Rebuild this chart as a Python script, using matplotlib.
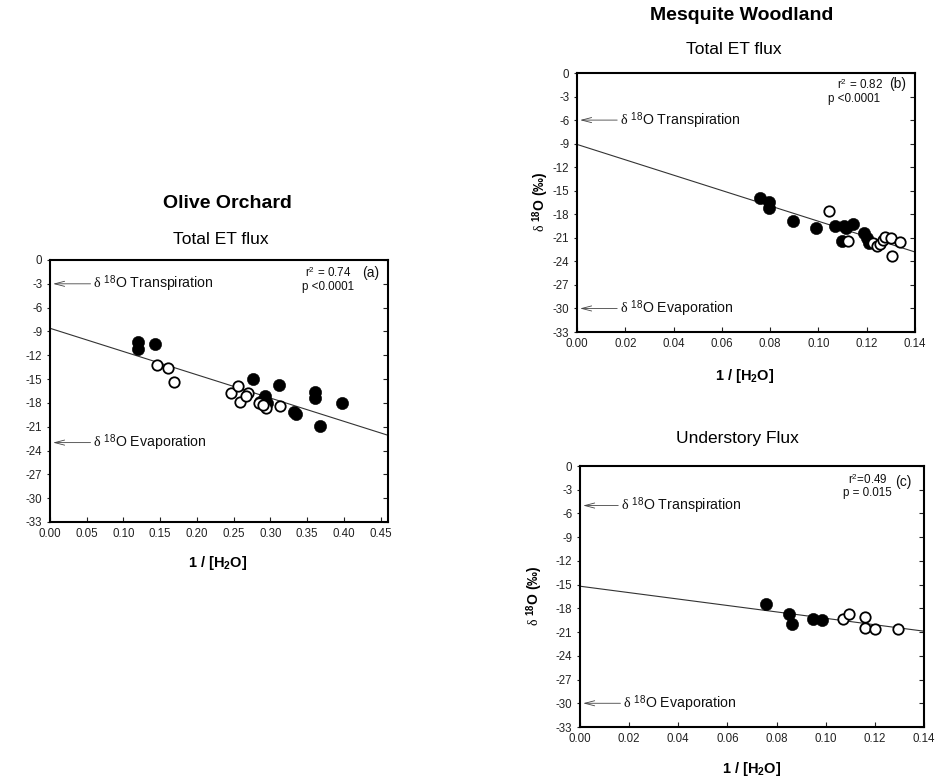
import numpy as np
import matplotlib
matplotlib.use("Agg")
import matplotlib.pyplot as plt
from matplotlib.ticker import FixedLocator, FixedFormatter

plt.rcParams['font.family'] = ['Liberation Sans', 'DejaVu Sans']
plt.rcParams['mathtext.fontset'] = 'custom'
plt.rcParams['mathtext.rm'] = 'Liberation Serif'
plt.rcParams['mathtext.sf'] = 'Liberation Sans'
plt.rcParams['mathtext.bf'] = 'Liberation Sans:bold'
plt.rcParams['mathtext.it'] = 'Liberation Sans:italic'
plt.rcParams['mathtext.default'] = 'rm'
plt.rcParams['axes.unicode_minus'] = False

# ---- Olive orchard, total ET flux (a) ----
olive_closed_x = [0.120, 0.120, 0.143, 0.276, 0.311, 0.292, 0.286, 0.295,
                  0.332, 0.335, 0.360, 0.360, 0.367, 0.398]
olive_closed_y = [-10.3, -11.2, -10.6, -15.0, -15.75, -17.15, -17.9, -18.05,
                  -19.15, -19.35, -16.6, -17.4, -20.9, -18.05]
olive_open_x = [0.146, 0.160, 0.169, 0.246, 0.2555, 0.258, 0.269, 0.267,
                0.284, 0.2945, 0.3136, 0.290]
olive_open_y = [-13.25, -13.55, -15.4, -16.8, -15.9, -17.85, -16.75, -17.1,
                -18.0, -18.7, -18.4, -18.3]
olive_fit = (-8.6, -29.3)          # intercept, slope
olive_xticks = [0.00, 0.05, 0.10, 0.15, 0.20, 0.25, 0.30, 0.35, 0.40, 0.45]
olive_xmax = 0.46
olive_end_members = (-3, -23)      # transpiration, evaporation
olive_stats = ("r$^{\\mathsf{2}}$ = 0.74", "p <0.0001", "(a)")

# ---- Mesquite woodland, total ET flux (b) ----
mesq_closed_x = [0.0760, 0.0795, 0.0795, 0.0896, 0.0990, 0.1068, 0.1107,
                 0.1144, 0.1099, 0.1190, 0.1200, 0.1210, 0.1115]
mesq_closed_y = [-15.9, -16.45, -17.2, -18.9, -19.75, -19.55, -19.55,
                 -19.3, -21.45, -20.4, -21.0, -21.6, -19.8]
mesq_open_x = [0.1043, 0.1124, 0.1226, 0.1243, 0.1255, 0.1266, 0.1276,
               0.1300, 0.1338, 0.1303]
mesq_open_y = [-17.55, -21.35, -21.6, -22.1, -21.85, -21.25, -20.9,
               -21.0, -21.5, -23.35]
mesq_fit = (-9.1, -97.9)
mesq_end_members = (-6, -30)
mesq_stats = ("r$^{\\mathsf{2}}$ = 0.82", "p <0.0001", "(b)")

# ---- Mesquite woodland, understory flux (c) ----
under_closed_x = [0.0755, 0.0850, 0.0862, 0.0950, 0.0983]
under_closed_y = [-17.4, -18.65, -19.95, -19.3, -19.5]
under_open_x = [0.1071, 0.1093, 0.1161, 0.1161, 0.1202, 0.1294]
under_open_y = [-19.4, -18.65, -19.1, -20.5, -20.6, -20.65]
under_fit = (-15.2, -40.6)
under_end_members = (-5, -30)
under_stats = ("r$^{\\mathsf{2}}$=0.49", "p = 0.015", "(c)")

mesq_xticks = [0.00, 0.02, 0.04, 0.06, 0.08, 0.10, 0.12, 0.14]
mesq_xmax = 0.14
yticks = list(range(0, -34, -3))

W, H = 942, 780
fig = plt.figure(figsize=(W / 100, H / 100), dpi=100)


def box(left, top, right, bottom):
    return [left / W, 1 - bottom / H, (right - left) / W, (bottom - top) / H]


def fx(x):
    return x / W


def fy(y):
    return 1 - y / H


def panel(rect, cx, cy, ox, oy, fit, xticks, xmax, members, label_x, stats, stat_pos):
    ax = fig.add_axes(rect)
    ax.set_xlim(0, xmax)
    ax.set_ylim(-33, 0)
    for s in ax.spines.values():
        s.set_linewidth(1.5)
    ax.xaxis.set_major_locator(FixedLocator(xticks))
    ax.xaxis.set_major_formatter(FixedFormatter([f"{t:.2f}" for t in xticks]))
    ax.yaxis.set_major_locator(FixedLocator(yticks))
    ax.yaxis.set_major_formatter(FixedFormatter([str(t) for t in yticks]))
    ax.tick_params(axis='x', direction='in', length=3.5, width=0.8,
                   labelsize=8.3, pad=4, colors='#222222')
    ax.tick_params(axis='y', direction='out', length=2.5, width=0.8,
                   labelsize=8.3, pad=3, colors='#222222', right=True)
    # right-side ticks point inward, left ones outward
    for t in ax.yaxis.get_major_ticks():
        t.tick2line.set_marker(matplotlib.lines.TICKLEFT)
        t.tick2line.set_markersize(3.5)

    xs = np.array([0.0, xmax])
    ax.plot(xs, fit[0] + fit[1] * xs, color='#333333', lw=0.8, zorder=2)
    ax.plot(cx, cy, 'o', ls='none', ms=8.8, mfc='black', mec='black',
            mew=0.4, zorder=3)
    ax.plot(ox, oy, 'o', ls='none', ms=7.5, mfc='white', mec='black',
            mew=1.3, zorder=4)

    names = ["Transpiration", "Evaporation"]
    for yv, name, lx in zip(members, names, label_x):
        ax.annotate(r"$\delta$ $^{\mathsf{18}}$O " + name,
                    xy=(xmax * 0.009, yv), xytext=(lx, yv),
                    ha='left', va='center', fontsize=10.2, color='#111111',
                    arrowprops=dict(arrowstyle='->,head_length=0.7,head_width=0.18',
                                    lw=0.6, color='#444444',
                                    shrinkA=0, shrinkB=0))
    sizes = [8.4, 8.4, 10]
    for txt, (px, py), fs in zip(stats, stat_pos, sizes):
        ax.text(px, py, txt, transform=ax.transAxes, ha='left', va='center',
                fontsize=fs, color='#111111')
    return ax


# (a) olive orchard
ax_a = panel(box(50, 260, 388, 522), olive_closed_x, olive_closed_y,
             olive_open_x, olive_open_y, olive_fit, olive_xticks, olive_xmax,
             olive_end_members, (0.059, 0.059), olive_stats,
             [(0.754, 0.951), (0.745, 0.896), (0.922, 0.951)])

# (b) mesquite total ET
ax_b = panel(box(577, 73, 915, 332), mesq_closed_x, mesq_closed_y,
             mesq_open_x, mesq_open_y, mesq_fit, mesq_xticks, mesq_xmax,
             mesq_end_members, (0.0178, 0.0178), mesq_stats,
             [(0.768, 0.956), (0.743, 0.898), (0.922, 0.956)])

# (c) mesquite understory
ax_c = panel(box(580, 466, 924, 727), under_closed_x, under_closed_y,
             under_open_x, under_open_y, under_fit, mesq_xticks, mesq_xmax,
             under_end_members, (0.0167, 0.0176), under_stats,
             [(0.779, 0.948), (0.764, 0.897), (0.915, 0.939)])

# headings
fig.text(fx(227), fy(203), "Olive Orchard", ha='center', va='center',
         fontsize=14, fontweight='bold')
fig.text(fx(221), fy(240), "Total ET flux", ha='center', va='center', fontsize=12.5)
fig.text(fx(742), fy(16), "Mesquite Woodland", ha='center', va='center',
         fontsize=14, fontweight='bold')
fig.text(fx(734), fy(49), "Total ET flux", ha='center', va='center', fontsize=12.5)
fig.text(fx(737), fy(439), "Understory Flux", ha='center', va='center', fontsize=12.5)

# axis titles
xlab = "1 / [H$_{\\mathbf{2}}$O]"
fig.text(fx(218), fy(563), xlab, ha='center', va='center', fontsize=10.5, fontweight='bold')
fig.text(fx(745), fy(376), xlab, ha='center', va='center', fontsize=10.5, fontweight='bold')
fig.text(fx(752), fy(769), xlab, ha='center', va='center', fontsize=10.5, fontweight='bold')

ylab = r"$\delta$ $^{\mathbf{18}}$O (‰)"
fig.text(fx(541), fy(202), ylab, ha='center', va='center', rotation=90,
         fontsize=10, fontweight='bold')
fig.text(fx(535), fy(596), ylab, ha='center', va='center', rotation=90,
         fontsize=10, fontweight='bold')

fig.savefig("out.png", dpi=100)
